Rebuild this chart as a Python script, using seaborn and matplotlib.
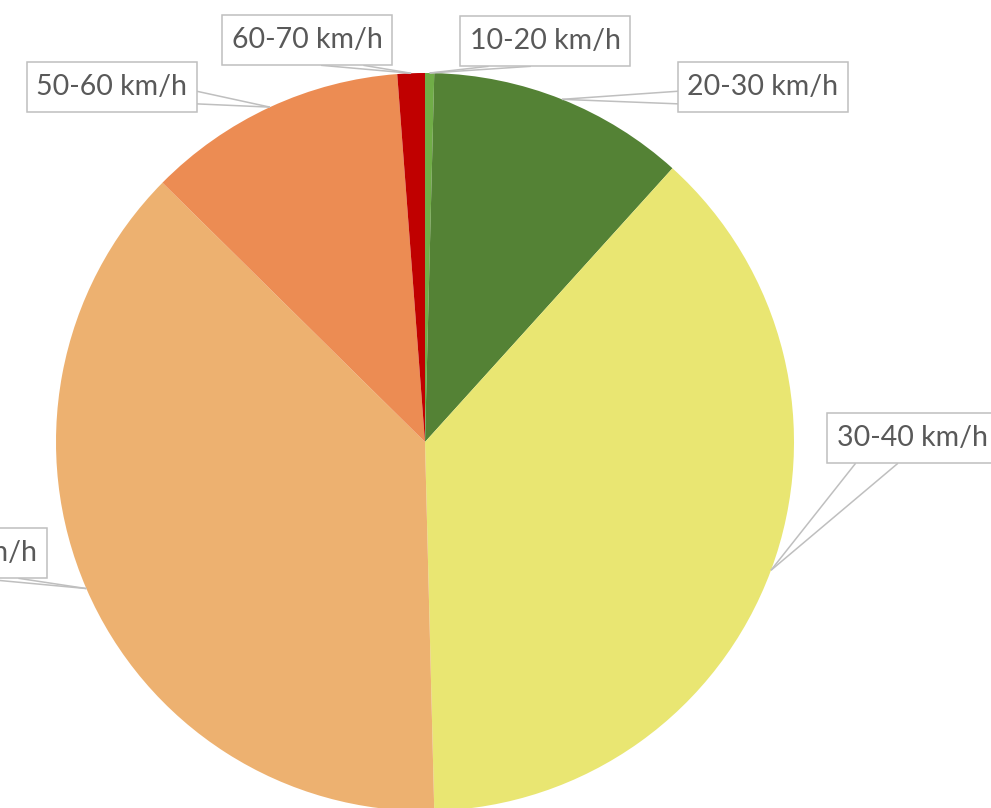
import numpy as np
import matplotlib
matplotlib.use("Agg")
import matplotlib.pyplot as plt
import seaborn as sns

# speed classes, clockwise from 12 o'clock
speed_labels = ["10-20 km/h", "20-30 km/h", "30-40 km/h", "40-50 km/h", "50-60 km/h", "60-70 km/h"]
shares = [0.4, 11.3, 37.9, 37.8, 11.4, 1.2]
colors = ["#70AD47", "#548235", "#E9E672", "#EDB170", "#EC8C53", "#C00000"]

# label box centres in figure pixels (x from left, y from top)
label_pos = [(545, 41), (763, 87), (912, 438), (-38, 553), (112, 87), (307, 40)]

W, H = 991, 808
CX, CY, R = 425, 442, 369  # pie centre / radius in pixels


def px(x, y):
    return (x - CX) / R, (CY - y) / R


sns.set_theme(style="white")
plt.rcParams["font.family"] = ["Lato", "DejaVu Sans"]

fig = plt.figure(figsize=(W / 100, H / 100), dpi=100)
ax = fig.add_axes([0, 0, 1, 1])
wedges, _ = ax.pie(shares, colors=colors, startangle=90, counterclock=False,
                   wedgeprops=dict(linewidth=0))
ax.set_xlim(-CX / R, (W - CX) / R)
ax.set_ylim((CY - H) / R, CY / R)
ax.set_aspect("auto")
ax.axis("off")

texts = []
for lab, pos in zip(speed_labels, label_pos):
    t = ax.text(*px(*pos), lab, ha="center", va="center", fontsize=20.5,
                color="#595959", zorder=5,
                bbox=dict(boxstyle="square,pad=0.32", fc="white", ec="#bfbfbf",
                          lw=1.1, mutation_aspect=1.35))
    texts.append(t)

fig.canvas.draw()
renderer = fig.canvas.get_renderer()
inv = ax.transData.inverted()

# callout wedges from the box edge to the middle of each slice's rim
for w, t in zip(wedges, texts):
    mid = np.deg2rad((w.theta1 + w.theta2) / 2)
    axp, ayp = np.cos(mid), np.sin(mid)
    bb = t.get_bbox_patch().get_window_extent(renderer)
    (x0, y0), (x1, y1) = inv.transform([(bb.x0, bb.y0), (bb.x1, bb.y1)])
    xc, yc = (x0 + x1) / 2, (y0 + y1) / 2
    if y0 <= ayp <= y1:
        xs = x0 if axp < xc else x1
        f = (7 / 12, 5 / 6) if ayp < yc else (1 / 6, 5 / 12)
        base = [(xs, y1 - fi * (y1 - y0)) for fi in f]
    else:
        ys = y0 if ayp < yc else y1
        f = (1 / 6, 5 / 12) if axp < xc else (7 / 12, 5 / 6)
        base = [(x0 + fi * (x1 - x0), ys) for fi in f]
    for bx, by in base:
        ax.plot([bx, axp], [by, ayp], color="#bfbfbf", lw=1.1, zorder=4,
                solid_capstyle="butt")

fig.savefig("out.png", dpi=100)
